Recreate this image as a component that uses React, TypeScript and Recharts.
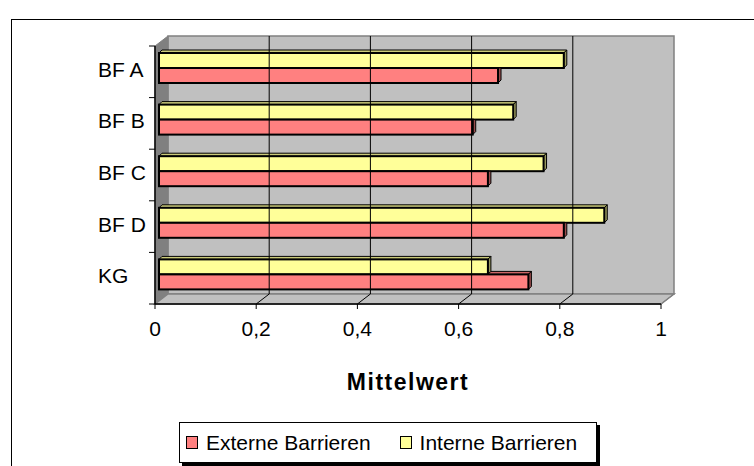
import React from 'react';
import {
  BarChart,
  Bar,
  XAxis,
  YAxis,
  ReferenceArea,
  ReferenceLine,
  Legend,
  Label,
} from 'recharts';

const categories = ['BF A', 'BF B', 'BF C', 'BF D', 'KG'];
const externeValues = [0.67, 0.62, 0.65, 0.8, 0.73];
const interneValues = [0.8, 0.7, 0.76, 0.88, 0.65];
const xTicks = [0, 0.2, 0.4, 0.6, 0.8, 1];
const seriesNames = { externe: 'Externe Barrieren', interne: 'Interne Barrieren' };
const legendOrder: Array<'externe' | 'interne'> = ['externe', 'interne'];

const data = categories.map((name, i) => ({
  name,
  externe: externeValues[i],
  interne: interneValues[i],
}));

const FONT = '"Liberation Sans", Arial, sans-serif';
const DEPTH_X = 13;
const DEPTH_Y = 10;
const BAR_DX = 4;
const BAR_DY = -4;
const BD = 3;

const colors = {
  externe: { front: '#FF8080', top: '#CC6666', side: '#994D4D' },
  interne: { front: '#FFFF99', top: '#CCCC7A', side: '#99995C' },
};

const WallShape = (p: any) => {
  const { x, y, width: w, height: h } = p;
  if (x == null) return null;
  const n = categories.length;
  const ticks = [];
  for (let i = 0; i <= n; i++) {
    const ty = y + (i * h) / n;
    ticks.push(<line key={i} x1={x - 6} y1={ty} x2={x} y2={ty} stroke="#000" strokeWidth={1} />);
  }
  return (
    <g>
      <rect x={x + DEPTH_X} y={y - DEPTH_Y} width={w} height={h} fill="#C0C0C0" stroke="#808080" strokeWidth={1.5} />
      <polygon
        points={`${x},${y} ${x + DEPTH_X},${y - DEPTH_Y} ${x + DEPTH_X},${y + h - DEPTH_Y} ${x},${y + h}`}
        fill="#808080"
        stroke="#808080"
      />
      <polygon
        points={`${x},${y + h} ${x + DEPTH_X},${y + h - DEPTH_Y} ${x + w + DEPTH_X},${y + h - DEPTH_Y} ${x + w},${y + h}`}
        fill="#C0C0C0"
        stroke="#808080"
        strokeWidth={1.5}
      />
      <line x1={x} y1={y} x2={x} y2={y + h} stroke="#000" strokeWidth={1.5} />
      {ticks}
    </g>
  );
};

const makeGridShape = (interior: boolean, isFirst: boolean) => (p: any) => {
  const x = p.x1 ?? p.x;
  if (x == null) return null;
  const yTop = Math.min(p.y1, p.y2);
  const yBot = Math.max(p.y1, p.y2);
  return (
    <g>
      {interior && (
        <line x1={x + DEPTH_X} y1={yTop - DEPTH_Y} x2={x + DEPTH_X} y2={yBot - DEPTH_Y} stroke="#000" strokeWidth={1} />
      )}
      {!isFirst && (
        <line x1={x} y1={yBot} x2={x + DEPTH_X} y2={yBot - DEPTH_Y} stroke={interior ? '#000' : '#808080'} strokeWidth={1} />
      )}
    </g>
  );
};

const InterneShape = (p: any) => {
  const { x, y, width, height } = p;
  if (x == null || width <= 0) return null;
  const c = colors.interne;
  const fx = x + BAR_DX;
  const fy = y + BAR_DY;
  const ex = fx + width;
  return (
    <g>
      <polygon
        points={`${fx},${fy} ${fx + BD},${fy - BD} ${ex + BD},${fy - BD} ${ex},${fy}`}
        fill={c.top}
        stroke="#000"
        strokeWidth={1}
      />
      <polygon
        points={`${ex},${fy} ${ex + BD},${fy - BD} ${ex + BD},${fy + height - BD} ${ex},${fy + height}`}
        fill={c.side}
        stroke="#000"
        strokeWidth={1}
      />
      <rect x={fx} y={fy} width={width} height={height} fill={c.front} stroke="#000" strokeWidth={2} />
    </g>
  );
};

const ExterneShape = (p: any) => {
  const { x, y, width, height, payload } = p;
  if (x == null || width <= 0) return null;
  const c = colors.externe;
  const unit = width / payload.externe;
  const fx = x + BAR_DX;
  const fy = y + BAR_DY;
  const ex = fx + width;
  const otherEnd = fx + payload.interne * unit;
  const longer = ex > otherEnd;
  return (
    <g>
      {longer && (
        <polygon
          points={`${otherEnd},${fy} ${otherEnd + BD},${fy - BD} ${ex + BD},${fy - BD} ${ex},${fy}`}
          fill={c.top}
          stroke="#000"
          strokeWidth={1}
        />
      )}
      <polygon
        points={`${ex},${fy} ${ex + BD},${longer ? fy - BD : fy} ${ex + BD},${fy + height - BD} ${ex},${fy + height}`}
        fill={c.side}
        stroke="#000"
        strokeWidth={1}
      />
      <rect x={fx} y={fy} width={width} height={height} fill={c.front} stroke="#000" strokeWidth={2} />
    </g>
  );
};

const CategoryTick = (p: any) => {
  const { x, y, payload } = p;
  return (
    <text x={x - 57} y={y + 5} textAnchor="start" fill="#000" fontFamily={FONT} fontSize={21}>
      {payload.value}
    </text>
  );
};

const LegendContent = () => (
  <div
    style={{
      width: 416,
      height: 39,
      border: '1px solid #000',
      boxShadow: '3px 3px 0 #000',
      background: '#fff',
      display: 'flex',
      alignItems: 'center',
      fontFamily: FONT,
      fontSize: 21,
      color: '#000',
      boxSizing: 'content-box',
    }}
  >
    {legendOrder.map((key, i) => (
      <div key={key} style={{ display: 'flex', alignItems: 'center', marginLeft: i === 0 ? 6 : 29 }}>
        <div
          style={{
            width: 10,
            height: 11,
            background: colors[key].front,
            border: '1.5px solid #000',
            marginRight: 8,
          }}
        />
        <span style={{ whiteSpace: 'nowrap', lineHeight: '24px' }}>{seriesNames[key]}</span>
      </div>
    ))}
  </div>
);

export default function App() {
  return (
    <div
      style={{
        position: 'absolute',
        left: 0,
        top: 0,
        width: 754,
        height: 466,
        overflow: 'hidden',
        background: '#fff',
      }}
    >
      <div
        style={{
          position: 'absolute',
          left: 11,
          top: 19,
          width: 900,
          height: 600,
          borderTop: '1.5px solid #000',
          borderLeft: '1.5px solid #000',
        }}
      />
      <div style={{ position: 'absolute', left: 0, top: 0 }}>
        <BarChart
          width={754}
          height={466}
          data={data}
          layout="vertical"
          margin={{ top: 46, right: 93, left: 95, bottom: 72 }}
          barSize={15}
          barGap={0}
        >
          <XAxis
            type="number"
            domain={[0, 1]}
            ticks={xTicks}
            interval={0}
            height={90}
            tickFormatter={(v: number) => String(v).replace('.', ',')}
            tick={{ fill: '#000', fontFamily: FONT, fontSize: 21 }}
            tickSize={5}
            tickMargin={12}
            axisLine={{ stroke: '#000', strokeWidth: 1.5 }}
            tickLine={{ stroke: '#000', strokeWidth: 1 }}
          >
            <Label
              value="Mittelwert"
              position="insideBottom"
              offset={4}
              style={{ fontFamily: FONT, fontSize: 23, fontWeight: 'bold', fill: '#000', letterSpacing: 1.5 }}
            />
          </XAxis>
          <YAxis
            type="category"
            dataKey="name"
            width={60}
            tickLine={false}
            tickSize={0}
            tickMargin={0}
            axisLine={false}
            tick={<CategoryTick />}
          />
          <ReferenceArea x1={0} x2={1} shape={<WallShape />} fillOpacity={1} />
          {xTicks.map((t, i) => (
            <ReferenceLine
              key={t}
              x={t}
              shape={makeGridShape(i > 0 && i < xTicks.length - 1, i === 0)}
            />
          ))}
          <Bar dataKey="interne" name={seriesNames.interne} isAnimationActive={false} shape={<InterneShape />} />
          <Bar dataKey="externe" name={seriesNames.externe} isAnimationActive={false} shape={<ExterneShape />} />
          <Legend
            layout="horizontal"
            verticalAlign="middle"
            align="center"
            content={<LegendContent />}
            wrapperStyle={{ left: 179, top: 422, width: 420, height: 45 }}
          />
        </BarChart>
      </div>
    </div>
  );
}
